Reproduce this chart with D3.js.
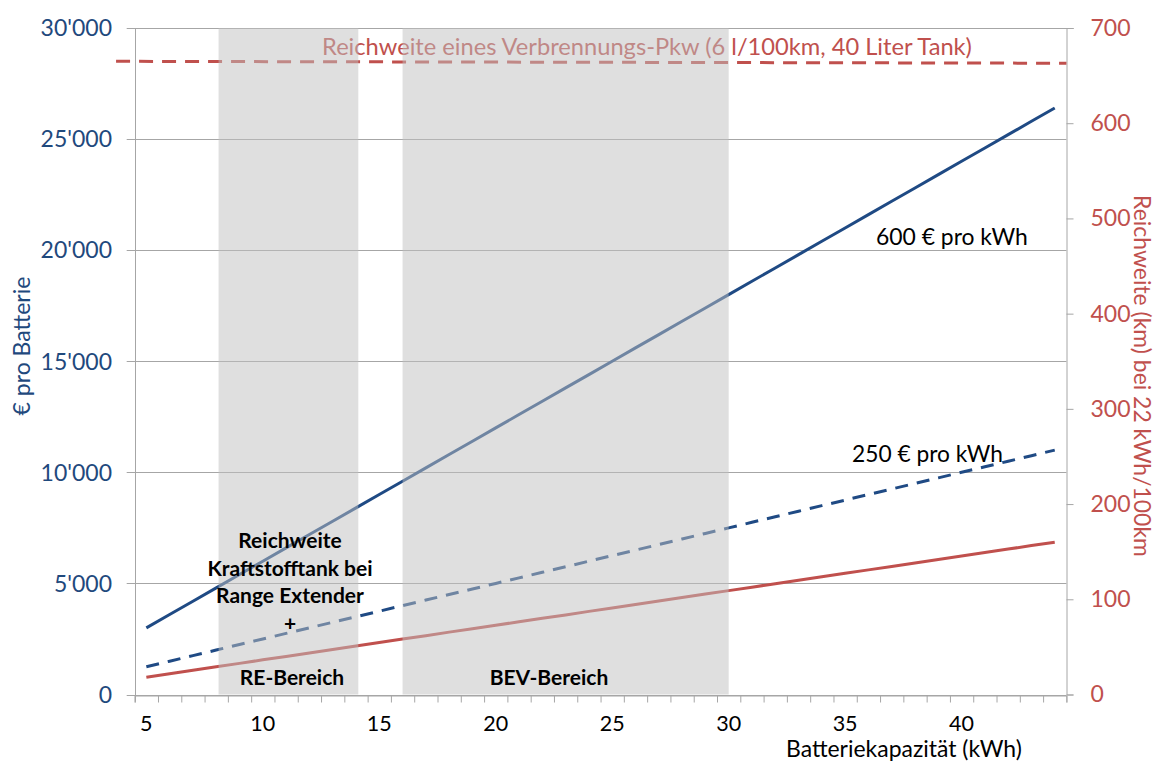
<!DOCTYPE html>
<html><head><meta charset="utf-8">
<script src="https://cdn.jsdelivr.net/npm/d3@7"></script>
<style>html,body{margin:0;padding:0;background:#fff;} svg{display:block;}</style>
</head><body><svg id="chart" width="1157" height="762"></svg>
<script>
// ---------- data ----------
const categories = [5,6,7,8,9,10,11,12,13,14,15,16,17,18,19,20,21,22,23,24,25,26,27,28,29,30,31,32,33,34,35,36,37,38,39,40,41,42,43,44];
const cost600 = [3000,3600,4200,4800,5400,6000,6600,7200,7800,8400,9000,9600,10200,10800,11400,12000,12600,13200,13800,14400,15000,15600,16200,16800,17400,18000,18600,19200,19800,20400,21000,21600,22200,22800,23400,24000,24600,25200,25800,26400];
const cost250 = [1250,1500,1750,2000,2250,2500,2750,3000,3250,3500,3750,4000,4250,4500,4750,5000,5250,5500,5750,6000,6250,6500,6750,7000,7250,7500,7750,8000,8250,8500,8750,9000,9250,9500,9750,10000,10250,10500,10750,11000];
const rangeKm = [18.2,21.8,25.5,29.1,32.7,36.4,40.0,43.6,47.3,50.9,54.5,58.2,61.8,65.5,69.1,72.7,76.4,80.0,83.6,87.3,90.9,94.5,98.2,101.8,105.5,109.1,112.7,116.4,120.0,123.6,127.3,130.9,134.5,138.2,141.8,145.5,149.1,152.7,156.4,160.0];
const xTickLabels = [5,10,15,20,25,30,35,40];
const leftTicks = [0,5000,10000,15000,20000,25000,30000];
const rightTicks = [0,100,200,300,400,500,600,700];
const bandRanges = [[8.1,14.1],[16,30]];
const bandLabels = ["RE-Bereich","BEV-Bereich"];
const reLabelLines = ["Reichweite","Kraftstofftank bei","Range Extender","+"];
const iceRangeX = [3.7, 44.5];
const iceRangeKm = [665, 663];
const iceLabel = "Reichweite eines Verbrennungs-Pkw (6 l/100km, 40 Liter Tank)";
const seriesLabels = ["600 € pro kWh","250 € pro kWh"];
const leftTitle = "€ pro Batterie";
const rightTitle = "Reichweite (km) bei 22 kWh/100km";
const xTitle = "Batteriekapazität (kWh)";

// ---------- setup ----------
const BLUE = "#1f4a84", BLUE_TXT = "#1f497d", RED = "#c0504d", GRID = "#a6a6a6";
const FONT = "Lato, 'Open Sans', sans-serif";
const svg = d3.select("#chart").attr("font-family", FONT);
const L = 134.7, R = 1066.4, T = 28, B = 694.5;

const x = d3.scaleLinear().domain([4.5, 44.5]).range([L, R]);
const yL = d3.scaleLinear().domain([0, 30000]).range([B, T]);
const yR = d3.scaleLinear().domain([0, 700]).range([B, T]);
const fmt = d3.formatLocale({decimal: ".", thousands: "'", grouping: [3], currency: ["", ""]}).format(",");

function fit(sel, w) {
  const fs = parseFloat(sel.attr("font-size"));
  const len = sel.node().getComputedTextLength();
  sel.attr("font-size", fs * w / len);
  return sel;
}

// gridlines (extend left as ticks)
svg.append("g").selectAll("line").data(leftTicks).join("line")
  .attr("x1", L - 8).attr("x2", d => d === 30000 ? R + 7 : R)
  .attr("y1", d => Math.round(yL(d)) + 0.5).attr("y2", d => Math.round(yL(d)) + 0.5)
  .attr("stroke", GRID).attr("stroke-width", 1);

// left axis line
svg.append("line").attr("x1", Math.round(L) + 0.5).attr("x2", Math.round(L) + 0.5)
  .attr("y1", T).attr("y2", B + 7).attr("stroke", GRID);

// left tick labels
svg.append("g").selectAll("text").data(leftTicks).join("text")
  .attr("x", 112).attr("y", d => yL(d)).attr("dy", "0.36em")
  .attr("text-anchor", "end").attr("font-size", 23).attr("fill", BLUE_TXT)
  .text(d => fmt(d));

// bottom axis: minor ticks at category boundaries
const xAxisMinor = d3.axisBottom(x).tickValues(d3.range(4.5, 45, 1)).tickSize(7).tickFormat("");
const gx = svg.append("g").attr("transform", `translate(0,${Math.round(B) + 0.5})`).call(xAxisMinor);
gx.select(".domain").attr("stroke", GRID);
gx.selectAll(".tick line").attr("stroke", GRID);

// x tick labels
svg.append("g").selectAll("text").data(xTickLabels).join("text")
  .attr("x", d => x(d)).attr("y", 731).attr("text-anchor", "middle")
  .attr("font-size", 21.5).attr("fill", "#000").text(d => d);

// right axis
const rAxis = d3.axisRight(yR).tickValues(rightTicks).tickSize(7).tickPadding(17).tickFormat(d => d);
const gr = svg.append("g").attr("transform", `translate(${Math.round(R) + 0.5},0)`).call(rAxis);
gr.select(".domain").attr("stroke", GRID);
gr.selectAll(".tick line").attr("stroke", GRID);
gr.selectAll(".tick text").attr("fill", RED).attr("font-size", 23).attr("font-family", FONT);

// axis titles
svg.append("text").attr("transform", "translate(22,346) rotate(-90)")
  .attr("text-anchor", "middle").attr("dy", "0.35em").attr("font-size", 23)
  .attr("fill", BLUE_TXT).text(leftTitle);
const rt = svg.append("text").attr("transform", "translate(1142,376) rotate(90)")
  .attr("text-anchor", "middle").attr("dy", "0.35em").attr("font-size", 21)
  .attr("fill", RED).text(rightTitle);
fit(rt, 362);
const xt = svg.append("text").attr("x", 786).attr("y", 756.5).attr("font-size", 21)
  .attr("fill", "#000").text(xTitle);
fit(xt, 236);

// ---------- series ----------
const pts = (vals, sc) => categories.map((c, i) => [x(c), sc(vals[i])]);
const line = d3.line();
svg.append("path").attr("d", line(pts(cost600, yL))).attr("fill", "none")
  .attr("stroke", BLUE).attr("stroke-width", 3);
svg.append("path").attr("d", line(pts(cost250, yL))).attr("fill", "none")
  .attr("stroke", BLUE).attr("stroke-width", 3).attr("stroke-dasharray", "13,9");
svg.append("path").attr("d", line(pts(rangeKm, yR))).attr("fill", "none")
  .attr("stroke", RED).attr("stroke-width", 3);

// ICE range reference line
svg.append("path").attr("d", line(iceRangeX.map((v, i) => [x(v), yR(iceRangeKm[i])])))
  .attr("fill", "none").attr("stroke", RED).attr("stroke-width", 3).attr("stroke-dasharray", "14,9");
const il = svg.append("text").attr("x", 647).attr("y", 55).attr("text-anchor", "middle")
  .attr("font-size", 21).attr("fill", RED).text(iceLabel);
fit(il, 650);

// ---------- shaded bands (semi-transparent overlay) ----------
svg.append("g").selectAll("rect").data(bandRanges).join("rect")
  .attr("x", d => x(d[0])).attr("width", d => x(d[1]) - x(d[0]))
  .attr("y", T).attr("height", B - T)
  .attr("fill", "#bfbfbf").attr("fill-opacity", 0.5);

// band labels
const bandCenters = [292, 549];
svg.append("g").selectAll("text").data(bandLabels).join("text")
  .attr("x", (d, i) => bandCenters[i]).attr("y", 685).attr("text-anchor", "middle")
  .attr("font-size", 21).attr("font-weight", "bold").attr("fill", "#000").text(d => d);

svg.append("g").selectAll("text").data(reLabelLines).join("text")
  .attr("x", 290).attr("y", (d, i) => 548 + i * 27.5).attr("text-anchor", "middle")
  .attr("font-size", 21).attr("font-weight", "bold").attr("fill", "#000").text(d => d);

// series labels
const sl = [[876, 245, 152], [852, 462, 151]];
seriesLabels.forEach((t, i) => {
  const s = svg.append("text").attr("x", sl[i][0]).attr("y", sl[i][1])
    .attr("font-size", 21).attr("fill", "#000").text(t);
  fit(s, sl[i][2]);
});
</script>
</body></html>
